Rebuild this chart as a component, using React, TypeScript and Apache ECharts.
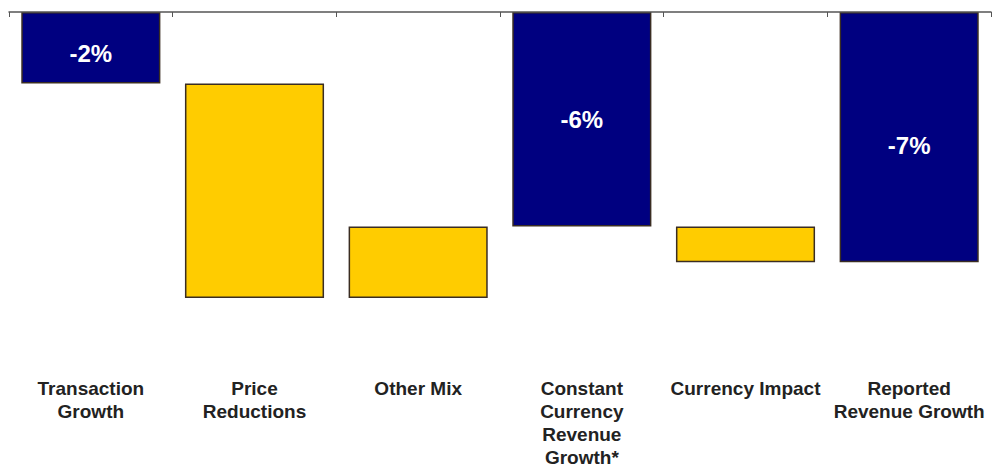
import React, { useEffect, useRef } from "react";
import * as echarts from "echarts";

const categories = [
  "Transaction\nGrowth",
  "Price\nReductions",
  "Other Mix",
  "Constant\nCurrency\nRevenue\nGrowth*",
  "Currency Impact",
  "Reported\nRevenue Growth",
];
// change in percentage points; totals are cumulative levels
const changes = [-2, -6, 2, -6, -1, -7];
const isTotal = [false, false, false, true, false, true];
const isHighlighted = [true, false, false, true, false, true];
const valueLabelNudge = [6, 0, 0, 0, 0, 8];

const NAVY = "#000080";
const YELLOW = "#FFCC00";

export default function App() {
  const ref = useRef<HTMLDivElement>(null);

  useEffect(() => {
    if (!ref.current) return;
    const chart = echarts.init(ref.current, undefined, { renderer: "svg" });

    let running = 0;
    const baseData: number[] = [];
    const deltaData: any[] = [];
    changes.forEach((v, i) => {
      let start: number, end: number;
      if (isTotal[i]) {
        start = 0;
        end = v;
      } else {
        start = running;
        end = running + v;
      }
      running = end;
      const hi = Math.max(start, end);
      const lo = Math.min(start, end);
      baseData.push(hi);
      deltaData.push({
        value: lo - hi,
        itemStyle: { color: isHighlighted[i] ? NAVY : YELLOW },
        label: {
          show: isHighlighted[i],
          formatter: `${v}%`,
          offset: [0, valueLabelNudge[i]],
        },
      });
    });

    chart.setOption({
      animation: false,
      grid: {
        left: 9,
        right: 1,
        top: 12,
        bottom: 172,
        containLabel: false,
        outerBoundsMode: "none",
      },
      xAxis: [
        {
          type: "category",
          data: categories,
          position: "top",
          z: 10,
          axisLine: { show: true, lineStyle: { color: "#555", width: 1.5 } },
          axisTick: { show: true, inside: true, length: 5, lineStyle: { color: "#555" } },
          axisLabel: { show: false },
          splitLine: { show: false },
        },
        {
          type: "category",
          data: categories,
          position: "bottom",
          axisLine: { show: false },
          axisTick: { show: false },
          splitLine: { show: false },
          axisLabel: {
            show: true,
            interval: 0,
            margin: 79,
            color: "#222",
            fontFamily: "Liberation Sans, Arial, sans-serif",
            fontWeight: "bold",
            fontSize: 19,
            lineHeight: 23,
            align: "center",
          },
        },
      ],
      yAxis: {
        type: "value",
        min: -8,
        max: 0,
        show: false,
        splitLine: { show: false },
      },
      series: [
        {
          type: "bar",
          stack: "wf",
          data: baseData,
          barWidth: "85%",
          itemStyle: { color: "transparent", borderWidth: 0 },
          emphasis: { disabled: true },
          silent: true,
        },
        {
          type: "bar",
          stack: "wf",
          data: deltaData,
          barWidth: "85%",
          itemStyle: { borderColor: "#3a2d22", borderWidth: 1.5 },
          label: {
            position: "inside",
            color: "#fff",
            fontFamily: "Liberation Sans, Arial, sans-serif",
            fontWeight: "bold",
            fontSize: 24,
          },
        },
      ],
    });

    return () => chart.dispose();
  }, []);

  return (
    <div
      ref={ref}
      style={{ position: "absolute", left: 0, top: 0, width: 992, height: 470, background: "#fff" }}
    />
  );
}
